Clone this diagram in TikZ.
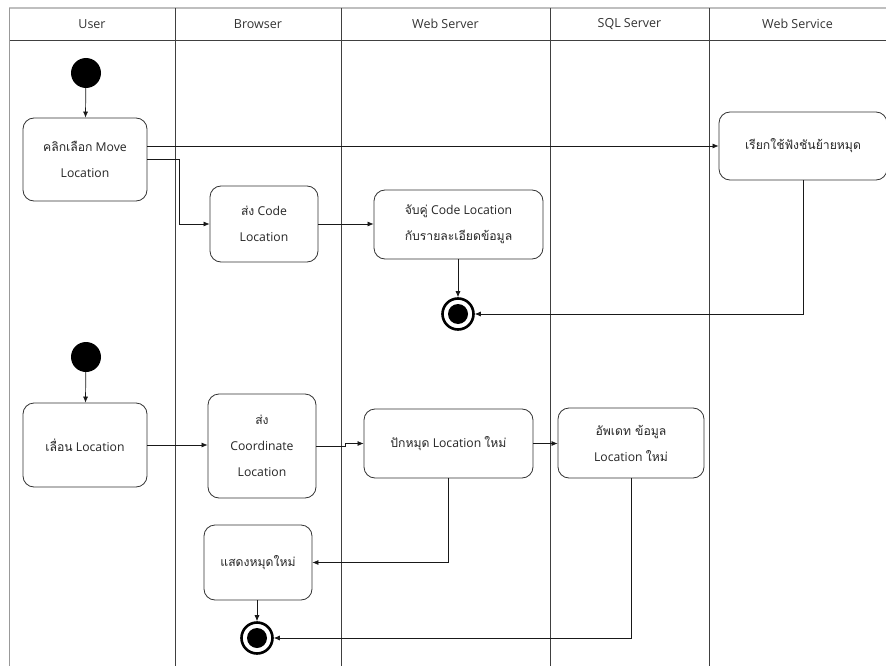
\documentclass[tikz,border=0pt]{standalone}
\usepackage{fontspec}
\setmainfont{Open Sans}
\newfontfamily\thai[Script=Thai]{Loma}
\usetikzlibrary{arrows.meta,calc}
\begin{document}
\begin{tikzpicture}[x=1pt,y=-1pt,
  lane/.style={draw=black!75, line width=0.7pt},
  act/.style={draw=black!80, line width=0.8pt, rounded corners=11pt, align=center, text=black!85,
    font=\fontsize{12.2}{26}\selectfont, inner sep=2pt},
  hdr/.style={font=\fontsize{12.5}{14}\selectfont, text=black!80},
  arr/.style={draw=black!90, line width=0.7pt, -{Latex[length=6pt,width=5pt]}},
  startnode/.style={circle, fill=black, minimum size=30pt, inner sep=0pt},
  endnode/.style={circle, draw=black, line width=2.6pt, minimum size=31pt, inner sep=0pt,
    path picture={\fill[black] (path picture bounding box.center) circle (10pt);}}
]
\useasboundingbox (0,0) rectangle (886,666);
\fill[white] (0,0) rectangle (886,666);
% header and lanes
\draw[black!25, line width=2pt] (9,8) -- (886,8);
\draw[lane] (9,40) -- (886,40);
\draw[black!40, line width=0.7pt] (9,8) -- (9,666);
\foreach \x in {175,341,550,709} \draw[lane] (\x,8) -- (\x,666);
\node[hdr] (h1) at (92,24) {User};
\node[hdr] (h2) at (258,24) {Browser};
\node[hdr] (h3) at (445.5,24) {Web Server};
\node[hdr] (h4) at (629.5,24) {SQL Server};
\node[hdr] (h5) at (797.5,24) {Web Service};

% upper flow
\node[startnode] (S1) at (86,73) {};
\node[act, minimum width=124pt, minimum height=83pt] (A1) at (85,159.5) {{\thai คลิกเลือก} Move\\Location};
\node[act, minimum width=108pt, minimum height=76pt] (B1) at (264,224) {{\thai ส่ง} Code\\Location};
\node[act, minimum width=169pt, minimum height=69pt] (W1) at (458.5,224.5) {{\thai จับคู่} Code Location\\{\thai กับรายละเอียดข้อมูล}};
\node[act, minimum width=168pt, minimum height=68pt] (WS) at (803,146) {{\thai เรียกใช้ฟังชันย้ายหมุด}};
\node[endnode] (E1) at (458,314) {};

\draw[arr] (S1) -- (A1);
\draw[arr] (A1.east |- WS.west) -- (WS.west);
\draw[arr] (A1.east) -- ++(32,0) |- (B1.west);
\draw[arr] (B1.east) -- (W1.west |- B1.east);
\draw[arr] (W1.south -| E1) -- (E1.north);
\draw[arr] (WS.south) |- (E1.east);

% lower flow
\node[startnode] (S2) at (86,357) {};
\node[act, minimum width=124pt, minimum height=84pt] (A2) at (85,445) {{\thai เลื่อน} Location};
\node[act, minimum width=108pt, minimum height=104pt] (B2) at (262,446) {{\thai ส่ง}\\Coordinate\\Location};
\node[act, minimum width=169pt, minimum height=69pt] (W2) at (448.5,443.5) {{\thai ปักหมุด} Location {\thai ใหม่}};
\node[act, minimum width=146pt, minimum height=70pt] (Q2) at (631,443) {{\thai อัพเดท ข้อมูล}\\Location {\thai ใหม่}};
\node[act, minimum width=108pt, minimum height=75pt] (B3) at (258,562.5) {{\thai แสดงหมุดใหม่}};
\node[endnode] (E2) at (257,638) {};

\draw[arr] (S2) -- (A2);
\draw[arr] (A2.east) -- (B2.west |- A2.east);
\draw[arr] (B2.east) -- ++(29,0) |- (W2.west);
\draw[arr] (W2.east) -- (Q2.west |- W2.east);
\draw[arr] (W2.south) |- (B3.east);
\draw[arr] (B3.south -| E2) -- (E2.north);
\draw[arr] (Q2.south) |- (E2.east);
\end{tikzpicture}
\end{document}
